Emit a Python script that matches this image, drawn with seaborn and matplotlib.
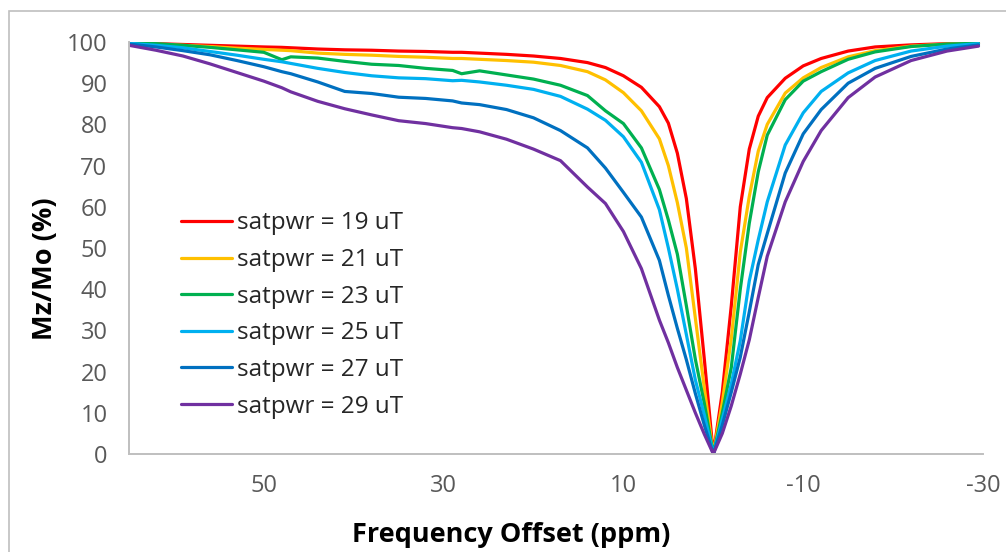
import matplotlib
matplotlib.use("Agg")
import matplotlib.pyplot as plt
from matplotlib.patches import Rectangle
from matplotlib.ticker import FixedLocator, MultipleLocator
import pandas as pd
import seaborn as sns

# frequency offset (ppm), shared by all series
ppm = [65, 62, 59, 56, 53, 50, 48, 47, 44, 41, 38, 35, 32, 29, 28, 26, 23, 20,
       17, 14, 12, 10, 8, 6, 5, 4, 3, 2, 1, 0, -1, -2, -3, -4, -5, -6, -8,
       -10, -12, -15, -18, -22, -26, -29.5]

# Mz/Mo (%), one list per saturation power
mz_19 = [99.7, 99.6, 99.4, 99.2, 99.0, 98.8, 98.7, 98.6, 98.3, 98.1, 98.0, 97.8,
         97.7, 97.5, 97.5, 97.3, 97.0, 96.6, 96.0, 95.0, 93.8, 91.8, 89.0, 84.3,
         80.3, 73.0, 62.0, 45.0, 23.0, 0.0, 15.0, 36.0, 60.0, 74.0, 82.0, 86.5,
         91.2, 94.2, 96.0, 97.8, 98.8, 99.3, 99.6, 99.7]
mz_21 = [99.7, 99.5, 99.2, 98.9, 98.5, 98.2, 98.0, 97.9, 97.3, 97.0, 96.8, 96.5,
         96.3, 96.0, 96.0, 95.8, 95.5, 95.1, 94.3, 92.8, 90.8, 87.7, 83.3, 76.5,
         70.0, 61.0, 50.0, 33.0, 16.0, 0.0, 12.5, 28.0, 49.0, 62.5, 73.5, 80.0,
         87.6, 91.3, 93.8, 96.4, 97.9, 99.0, 99.5, 99.7]
mz_23 = [99.7, 99.6, 99.2, 98.7, 98.1, 97.5, 95.7, 96.4, 96.1, 95.3, 94.6, 94.3,
         93.6, 93.1, 92.3, 93.0, 92.0, 91.0, 89.5, 87.0, 83.3, 80.2, 74.3, 64.2,
         56.8, 48.5, 36.0, 23.0, 12.3, 0.0, 10.0, 21.0, 40.0, 56.0, 68.5, 77.4,
         86.0, 90.5, 92.8, 95.8, 97.6, 98.9, 99.5, 99.7]
mz_25 = [99.7, 99.2, 98.6, 97.7, 96.8, 95.8, 95.2, 94.8, 93.6, 92.6, 91.8, 91.3,
         91.1, 90.6, 90.7, 90.3, 89.5, 88.5, 86.8, 83.7, 81.0, 77.0, 70.8, 59.3,
         50.0, 40.0, 29.0, 18.0, 9.5, 0.0, 8.5, 17.0, 27.5, 42.0, 52.0, 61.2,
         75.0, 82.8, 88.0, 92.5, 95.5, 97.8, 99.0, 99.6]
mz_27 = [99.5, 98.8, 97.9, 96.9, 95.5, 94.0, 92.8, 92.3, 90.3, 88.0, 87.5, 86.6,
         86.3, 85.7, 85.2, 84.8, 83.6, 81.6, 78.5, 74.3, 69.4, 63.5, 57.5, 47.0,
         38.5, 30.5, 22.9, 14.7, 7.0, 0.0, 7.0, 15.0, 23.5, 34.5, 46.0, 53.5,
         68.2, 77.7, 83.6, 90.0, 93.6, 96.5, 98.3, 99.3]
mz_29 = [99.2, 98.0, 96.6, 94.7, 92.6, 90.5, 88.9, 87.9, 85.6, 83.8, 82.3, 80.9,
         80.2, 79.2, 79.0, 78.2, 76.4, 74.0, 71.2, 64.8, 60.8, 54.0, 45.0, 32.5,
         27.0, 21.0, 15.5, 10.0, 4.8, 0.0, 5.0, 11.7, 19.4, 27.7, 38.0, 48.0,
         61.2, 71.0, 78.5, 86.5, 91.5, 95.5, 97.8, 99.0]

powers = ["19", "21", "23", "25", "27", "29"]
series = [mz_19, mz_21, mz_23, mz_25, mz_27, mz_29]
colors = ["#FF0000", "#FFC000", "#00B050", "#00B0F0", "#0070C0", "#7030A0"]
x_ticks = [50, 30, 10, -10, -30]

sns.set_style("white")
plt.rcParams["font.family"] = ["Open Sans", "DejaVu Sans"]
plt.rcParams["axes.unicode_minus"] = False

frames = []
for p, vals in zip(powers, series):
    frames.append(pd.DataFrame({"ppm": ppm, "mz": vals,
                                "label": f"satpwr = {p} uT"}))
df = pd.concat(frames, ignore_index=True)

fig = plt.figure(figsize=(10.06, 5.52), dpi=100)
ax = fig.add_axes([129 / 1006, 1 - 454 / 552, 854 / 1006, 412 / 552])

sns.lineplot(data=df, x="ppm", y="mz", hue="label", palette=colors,
             sort=False, estimator=None, linewidth=2.3, ax=ax)

ax.set_xlim(65, -30)
ax.set_ylim(0, 100)
ax.xaxis.set_major_locator(FixedLocator(x_ticks))
ax.xaxis.set_minor_locator(MultipleLocator(4, offset=2))
ax.yaxis.set_major_locator(MultipleLocator(10))
ax.yaxis.set_minor_locator(MultipleLocator(2))

axis_grey = "#BFBFBF"
for side in ["top", "right"]:
    ax.spines[side].set_visible(False)
for side in ["left", "bottom"]:
    ax.spines[side].set_color(axis_grey)
    ax.spines[side].set_linewidth(1.4)

ax.tick_params(which="major", direction="out", length=6.5, width=1.2,
               color=axis_grey, labelsize=17, labelcolor="#595959")
ax.tick_params(which="minor", direction="out", length=4, width=1.2,
               color=axis_grey)
ax.tick_params(axis="x", which="major", pad=8)
ax.tick_params(axis="y", which="major", pad=9)

ax.set_xlabel("Frequency Offset (ppm)", fontsize=19.5, fontweight="bold",
              color="black")
ax.set_ylabel("Mz/Mo (%)", fontsize=19.5, fontweight="bold", color="black")
ax.xaxis.set_label_coords(0.448, -0.165)
ax.yaxis.set_label_coords(-0.083, 0.45)

handles, labels = ax.get_legend_handles_labels()
ax.legend(handles, labels, loc="upper left", bbox_to_anchor=(0.035, 0.642),
          frameon=False, fontsize=17.5, handlelength=2.1, handletextpad=0.2,
          labelspacing=0.52)

fig.patches.append(Rectangle((9 / 1006, -0.1), 1.2, 1 - 11 / 552 + 0.1,
                             transform=fig.transFigure, fill=False,
                             ec="#BFBFBF", lw=1.2))

fig.savefig("out.png", dpi=100)
